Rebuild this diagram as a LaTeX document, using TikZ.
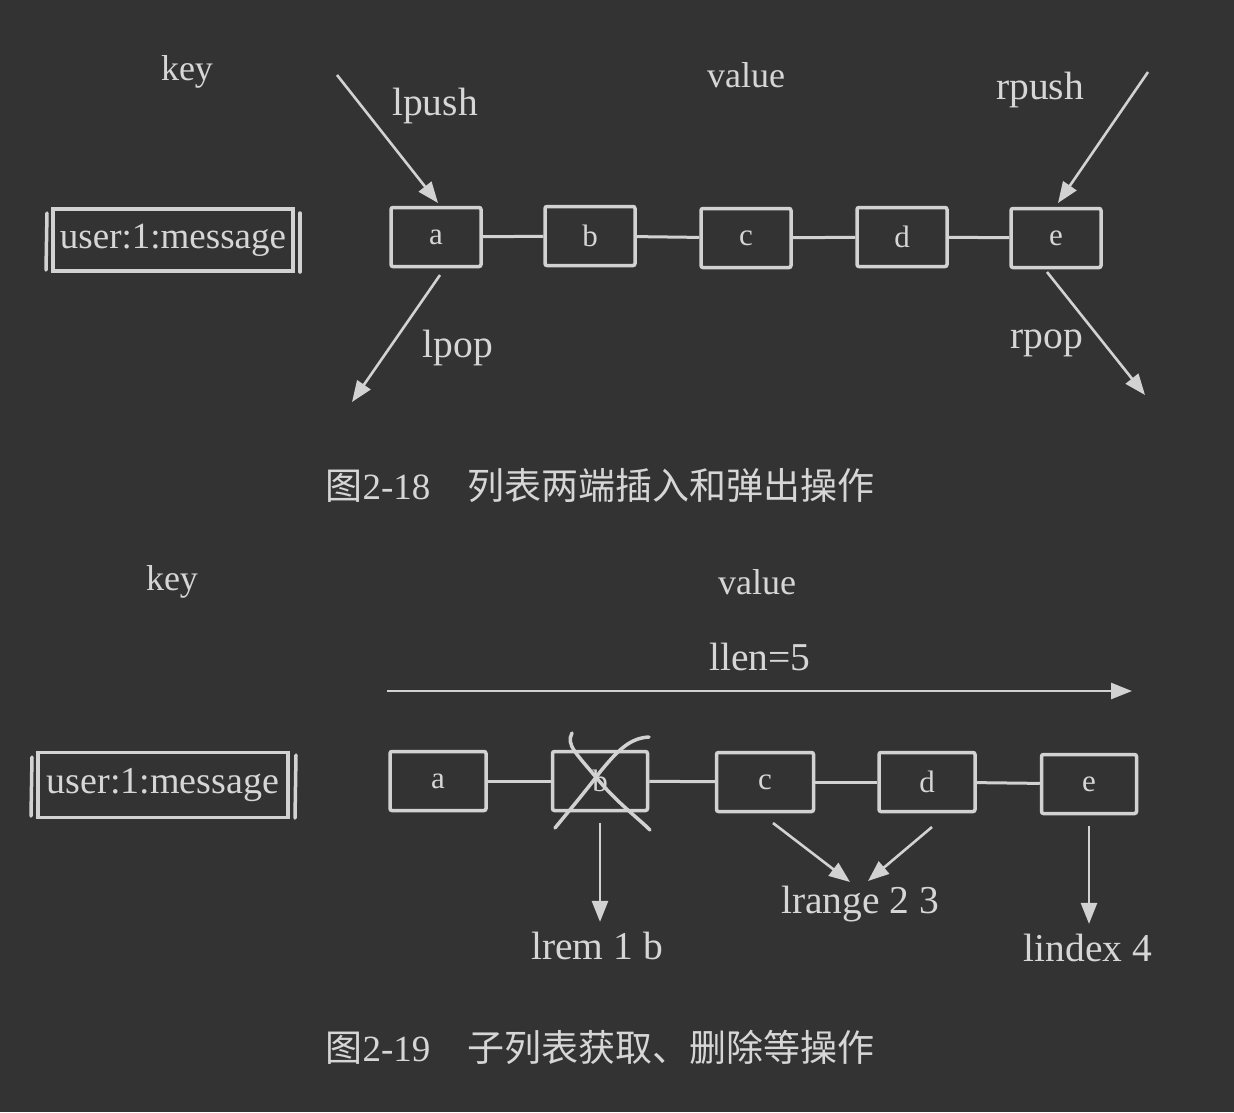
\documentclass[tikz,border=0pt]{standalone}
\usepackage{fontspec}
\setmainfont{Liberation Serif}
\newfontfamily\cjk{Noto Sans CJK SC}
\usetikzlibrary{arrows.meta}
\definecolor{bgc}{HTML}{333333}
\definecolor{inkc}{HTML}{D2D2D2}
\definecolor{txtc}{HTML}{D6D6D6}
\tikzset{
  cell/.style={draw=inkc, line width=3.5pt, rounded corners=2pt, minimum width=90pt, minimum height=59pt, inner sep=0pt, text=txtc, font=\fontsize{31}{34}\selectfont},
  link/.style={draw=inkc, line width=3pt},
  arr/.style={draw=inkc, line width=2.6pt, -{Triangle[length=21pt,width=16pt]}},
  lbl/.style={text=txtc, font=\fontsize{36}{40}\selectfont, inner sep=0pt},
  oplbl/.style={text=txtc, font=\fontsize{39.5}{44}\selectfont, inner sep=0pt},
  captext/.style={text=txtc, font=\fontsize{37}{40}\selectfont, inner sep=0pt},
  keybox/.style={draw=inkc, line width=3.5pt, inner sep=0pt, text=txtc, font=\fontsize{37}{44}\selectfont},
  bracket/.style={draw=inkc, line width=3.5pt, line cap=round},
}
\begin{document}
\begin{tikzpicture}[x=1pt,y=-1pt]
\useasboundingbox[fill=bgc] (0,0) rectangle (1234,1112);

% ---------- Figure 2-18 ----------
\node[lbl] (key1) at (187,72) {key};
\node[lbl] (val1) at (746,75) {value};
\node[keybox, minimum width=240pt, minimum height=62pt] (k1) at (173,240) {user:1:message};
\draw[bracket] (47,213) -- (46,270);
\draw[bracket] (300,213) -- (300,272);

\node[cell] (a1) at (436,237) {a};
\node[cell] (b1) at (590,236) {b};
\node[cell] (c1) at (746,238) {c};
\node[cell] (d1) at (902,237) {d};
\node[cell] (e1) at (1056,238) {e};
\draw[link] (a1) -- (b1);
\draw[link] (b1) -- (c1);
\draw[link] (c1) -- (d1);
\draw[link] (d1) -- (e1);

\coordinate (lpushS) at (337,75);
\coordinate (lpushE) at (438,203);
\coordinate (lpopS) at (440,275);
\coordinate (lpopE) at (352,402);
\coordinate (rpushS) at (1148,72);
\coordinate (rpushE) at (1058,203);
\coordinate (rpopS) at (1047,272);
\coordinate (rpopE) at (1145,395);
\draw[arr] (lpushS) -- (lpushE);
\draw[arr] (lpopS) -- (lpopE);
\draw[arr] (rpushS) -- (rpushE);
\draw[arr] (rpopS) -- (rpopE);
\node[oplbl] (lpush) at (435,106) {lpush};
\node[oplbl] (lpop) at (458,348) {lpop};
\node[oplbl] (rpush) at (1040,90) {rpush};
\node[oplbl] (rpop) at (1047,343) {rpop};

\node[captext] (cap1) at (600,486) {{\cjk 图}2-18{\cjk 　列表两端插入和弹出操作}};

% ---------- Figure 2-19 ----------
\node[lbl] (key2) at (172,582) {key};
\node[lbl] (val2) at (757,582) {value};
\node[oplbl] (llen) at (760,657) {llen=5};
\coordinate (llenS) at (387,691);
\coordinate (llenE) at (1132,691);
\draw[arr] (llenS) -- (llenE);

\node[keybox, minimum width=250pt, minimum height=65pt, font=\fontsize{38}{44}\selectfont] (k2) at (163,785) {user:1:message};
\draw[bracket] (32,757) -- (31,816);
\draw[bracket] (296,755) -- (295,818);

\node[cell, minimum width=96pt] (a2) at (438,781) {a};
\node[cell, minimum width=95pt] (b2) at (600,781) {b};
\node[cell, minimum width=97pt] (c2) at (765,782) {c};
\node[cell, minimum width=96pt] (d2) at (927,782) {d};
\node[cell, minimum width=95pt] (e2) at (1089,784) {e};
\draw[link] (a2) -- (b2);
\draw[link] (b2) -- (c2);
\draw[link] (c2) -- (d2);
\draw[link] (d2) -- (e2);

% strike-through of b
\draw[inkc, line width=3.5pt, line cap=round] (572,733) .. controls (566,745) and (575,752) .. (600,782) .. controls (620,805) and (638,818) .. (650,830);
\draw[inkc, line width=3.5pt, line cap=round] (649,737) .. controls (630,738) and (618,750) .. (600,772) .. controls (585,792) and (568,812) .. (555,828);

\node[oplbl] (lrem) at (597,946) {lrem 1 b};
\node[oplbl] (lrange) at (860,904) {lrange 2 3};
\node[oplbl] (lindex) at (1088,948) {lindex 4};
\draw[arr] ([yshift=-11pt]b2.south) -- ([yshift=10pt]b2.south |- lrem.north);
\draw[arr] ([yshift=-11pt]e2.south) -- ([yshift=10pt]e2.south |- lindex.north);
\coordinate (lrS1) at (773,823);
\coordinate (lrE1) at (850,882);
\coordinate (lrS2) at (932,827);
\coordinate (lrE2) at (868,881);
\draw[arr] (lrS1) -- (lrE1);
\draw[arr] (lrS2) -- (lrE2);

\node[captext] (cap2) at (600,1047) {{\cjk 图}2-19{\cjk 　子列表获取、删除等操作}};
\end{tikzpicture}
\end{document}
